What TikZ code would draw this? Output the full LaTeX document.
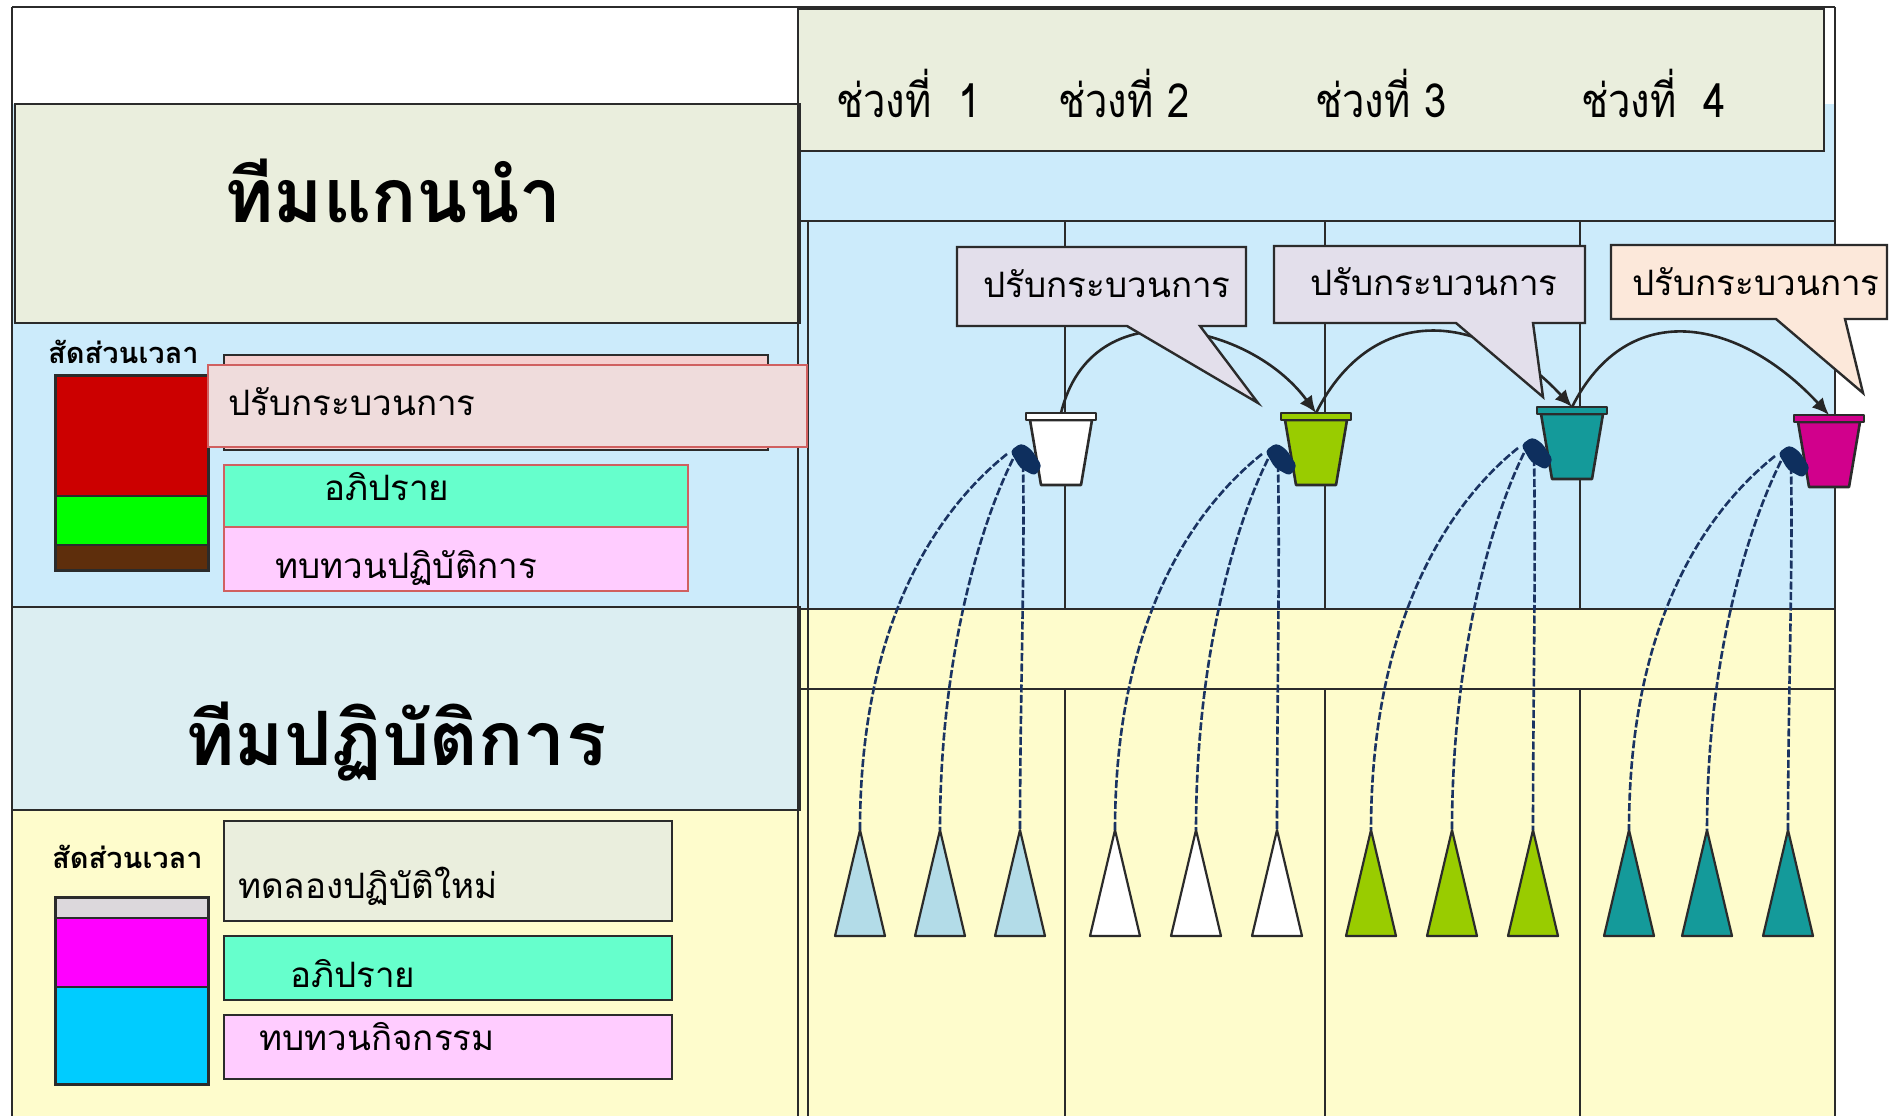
\documentclass[tikz,border=0pt]{standalone}
\usepackage{fontspec}
\newfontfamily\thai[Script=Thai]{Loma}
\newfontfamily\thainarrow[Script=Thai,FakeStretch=0.85]{Loma}
\usetikzlibrary{arrows.meta,calc}

\definecolor{frameline}{HTML}{2B2B2B}
\definecolor{beige}{HTML}{EAEEDD}
\definecolor{skyband}{HTML}{CCEBFB}
\definecolor{paleyellow}{HTML}{FEFCCC}
\definecolor{titleblue}{HTML}{DCEEF2}
\definecolor{lavender}{HTML}{E3DFEB}
\definecolor{peach}{HTML}{FCE8DA}
\definecolor{pinkbox}{HTML}{EFDCDC}
\definecolor{pinkback}{HTML}{F5CFCF}
\definecolor{mint}{HTML}{66FFCC}
\definecolor{lilac}{HTML}{FFCCFF}
\definecolor{boxred}{HTML}{D06060}
\definecolor{barred}{HTML}{CC0000}
\definecolor{bargreen}{HTML}{00FF00}
\definecolor{barbrown}{HTML}{5E2E0C}
\definecolor{bargray}{HTML}{DCD8DC}
\definecolor{barmagenta}{HTML}{FF00FF}
\definecolor{barcyan}{HTML}{00CCFF}
\definecolor{cupgreen}{HTML}{99CC00}
\definecolor{cupteal}{HTML}{149A9A}
\definecolor{cupmagenta}{HTML}{D1008C}
\definecolor{conelight}{HTML}{B3DCE8}
\definecolor{navy}{HTML}{0E2F5E}
\definecolor{flow}{HTML}{1A3362}

\newcommand{\thaisize}[1]{\thai\fontsize{#1}{#1}\selectfont}
\newcommand{\narrowsize}[1]{\thainarrow\fontsize{#1}{#1}\selectfont}

\tikzset{
  rule/.style={draw=frameline, line width=2.6pt},
  panel/.style={draw=frameline, line width=2.6pt},
  legendbox/.style={draw=boxred, line width=2.2pt},
  opbox/.style={draw=frameline, line width=2.2pt},
  calloutbox/.style={draw=frameline, line width=2.4pt, line join=miter},
  cupshape/.style={draw=frameline, line width=2.6pt, line join=round},
  cone/.style={draw=frameline, line width=2.2pt, line join=round},
  flowline/.style={draw=flow, line width=2.6pt, dash pattern=on 8pt off 2.5pt},
  passarc/.style={draw=black!85, line width=2.6pt, -{Latex[length=17pt,width=15pt]}},
  bigtitle/.style={font=\thai\bfseries\fontsize{75}{75}\selectfont, anchor=base, inner sep=0pt},
  phase/.style={font=\narrowsize{47}, anchor=base west, inner sep=0pt},
  label/.style={font=\thaisize{35}, anchor=base west, inner sep=0pt},
  share/.style={font=\thai\bfseries\fontsize{29}{29}\selectfont, anchor=base west, inner sep=0pt},
}

\begin{document}
\begin{tikzpicture}[x=1pt,y=-1pt]
\useasboundingbox (0,0) rectangle (1897,1116);
\fill[white] (0,0) rectangle (1897,1116);

% background bands
\fill[skyband] (12,104) rectangle (1835,609);
\fill[paleyellow] (12,609) rectangle (1835,1116);

% header with the four phases
\draw[panel, fill=beige] (798,9) rectangle (1824,151);
\node[phase] (ph1) at (836,117) {ช่วงที่\ \ 1};
\node[phase] (ph2) at (1058,117) {ช่วงที่ 2};
\node[phase] (ph3) at (1315,117) {ช่วงที่ 3};
\node[phase] (ph4) at (1581,117) {ช่วงที่\ \ 4};

% team title panels
\draw[panel, fill=beige] (15,104) rectangle (800,323);
\node[bigtitle] (lead) at (393,222) {ทีมแกนนำ};
\draw[panel, fill=titleblue] (12,607) rectangle (800,810);
\node[bigtitle] (ops) at (396,765) {ทีมปฏิบัติการ};

% grid of the phase columns
\draw[rule] (798,221) -- (1835,221);
\draw[rule] (808,221) -- (808,1116);
\draw[rule] (798,609) -- (1835,609);
\draw[rule] (798,689) -- (1835,689);
\foreach \x in {1065,1325,1580}{
  \draw[rule] (\x,221) -- (\x,609);
  \draw[rule] (\x,689) -- (\x,1116);
}
% outer frame
\draw[rule] (12,7) -- (1835,7);
\draw[rule] (12,7) -- (12,1116);
\draw[rule] (1835,7) -- (1835,1116);
\draw[rule] (798,7) -- (798,1116);

% leader team: time share legend
\node[share] (shareA) at (48,363) {สัดส่วนเวลา};
\fill[barred] (55,375) rectangle (208,496);
\fill[bargreen] (55,496) rectangle (208,545);
\fill[barbrown] (55,545) rectangle (208,570);
\draw[frameline, line width=2.6pt] (55,496) -- (208,496) (55,545) -- (208,545);
\draw[frameline, line width=3pt] (55,375) rectangle (208,570);
\draw[panel, fill=pinkback] (224,355) rectangle (768,450);
\draw[legendbox, fill=pinkbox] (208,365) rectangle (807,447);
\node[label] (adjA) at (228,415) {ปรับกระบวนการ};
\draw[legendbox, fill=mint] (224,465) rectangle (688,527);
\node[label] (discA) at (324,500) {อภิปราย};
\draw[legendbox, fill=lilac] (224,527) rectangle (688,591);
\node[label] (revA) at (275,578) {ทบทวนปฏิบัติการ};

% operations team: time share legend
\node[share] (shareB) at (52,868) {สัดส่วนเวลา};
\fill[bargray] (55,897) rectangle (208,918);
\fill[barmagenta] (55,918) rectangle (208,987);
\fill[barcyan] (55,987) rectangle (208,1084);
\draw[frameline, line width=2.6pt] (55,918) -- (208,918) (55,987) -- (208,987);
\draw[frameline, line width=3pt] (55,897) rectangle (208,1084);
\draw[opbox, fill=beige] (224,821) rectangle (672,921);
\node[label] (tryB) at (238,898) {ทดลองปฏิบัติใหม่};
\draw[opbox, fill=mint] (224,936) rectangle (672,1000);
\node[label] (discB) at (290,987) {อภิปราย};
\draw[opbox, fill=lilac] (224,1015) rectangle (672,1079);
\node[label] (revB) at (259,1050) {ทบทวนกิจกรรม};

% cups (one per phase) and cones below them
\foreach \k/\cx/\ty/\col/\ta/\tb/\tc/\ccol in {
    1/1061/413/white/860/940/1020/conelight,
    2/1316/413/cupgreen/1115/1196/1277/white,
    3/1572/407/cupteal/1371/1452/1533/cupgreen,
    4/1829/415/cupmagenta/1629/1707/1788/cupteal}{
  \coordinate (cup\k top) at (\cx,\ty);
  \coordinate (sa\k) at (\cx-54,\ty+41);
  \coordinate (sb\k) at (\cx-48,\ty+46);
  \coordinate (sc\k) at (\cx-38,\ty+51);
  \coordinate (ta\k) at (\ta,830);
  \coordinate (tb\k) at (\tb,830);
  \coordinate (tc\k) at (\tc,830);
  % cones
  \foreach \t in {\ta,\tb,\tc}{
    \draw[cone, fill=\ccol] (\t,830) -- (\t+25,936) -- (\t-25,936) -- cycle;
  }
  % streams from the cup to the cones
  \draw[flowline] (sa\k) .. controls ($(sa\k)+(-75,60)$) and (\ta,630) .. (ta\k);
  \draw[flowline] (sb\k) .. controls ($(sb\k)+(-30,60)$) and (\tb,650) .. (tb\k);
  \draw[flowline] (sc\k) .. controls ($(sc\k)+(2,100)$) and (\tc,700) .. (tc\k);
  % cup body and rim
  \draw[cupshape, fill=\col] (\cx-31,\ty+7) -- (\cx+31,\ty+7) -- (\cx+20,\ty+72)
        -- (\cx-20,\ty+72) -- cycle;
  \draw[cupshape, fill=\col] (\cx-35,\ty) rectangle (\cx+35,\ty+7);
  % nozzle
  \fill[navy, rounded corners=4pt] (\cx-51,\ty+38) -- (\cx-40,\ty+30) -- (\cx-30,\ty+36)
        -- (\cx-19,\ty+53) -- (\cx-26,\ty+63) -- (\cx-41,\ty+55) -- cycle;
}

% hand-over arcs between cups
\draw[passarc] (cup1top) .. controls +(31,-126) and +(-65,-89) .. (cup2top);
\draw[passarc] (cup2top) .. controls +(56,-111) and +(-90,-97) .. (cup3top);
\draw[passarc] (cup3top) .. controls +(56,-111) and +(-90,-97) .. (cup4top);

% callouts
\draw[calloutbox, fill=lavender] (957,247) -- (1246,247) -- (1246,326) -- (1200,326)
      -- (1258,403) -- (1127,326) -- (957,326) -- cycle;
\node[label] (cl1) at (983,297) {ปรับกระบวนการ};
\draw[calloutbox, fill=lavender] (1274,246) -- (1585,246) -- (1585,323) -- (1533,323)
      -- (1543,397) -- (1456,323) -- (1274,323) -- cycle;
\node[label] (cl2) at (1310,295) {ปรับกระบวนการ};
\draw[calloutbox, fill=peach] (1611,245) -- (1887,245) -- (1887,319) -- (1845,319)
      -- (1863,393) -- (1776,319) -- (1611,319) -- cycle;
\node[label] (cl3) at (1632,295) {ปรับกระบวนการ};
\end{tikzpicture}
\end{document}
